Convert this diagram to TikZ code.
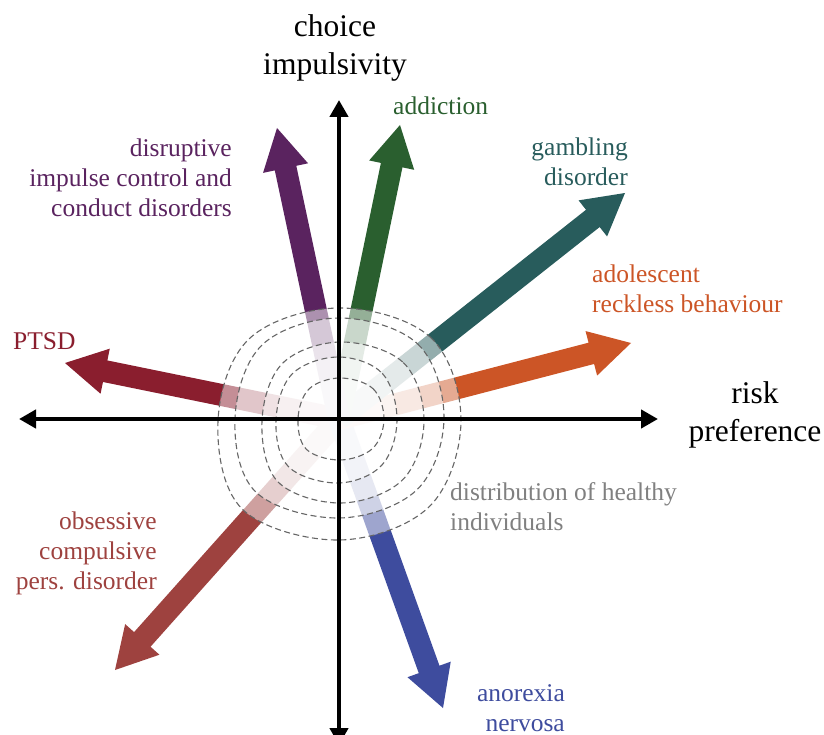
\documentclass[tikz,border=0pt]{standalone}
\usepackage{fontspec}
\setmainfont{Liberation Serif}
\usetikzlibrary{calc,arrows.meta}
\definecolor{cPurple}{RGB}{90,35,95}
\definecolor{cGreen}{RGB}{42,95,47}
\definecolor{cTeal}{RGB}{40,92,92}
\definecolor{cOrange}{RGB}{204,85,38}
\definecolor{cPTSD}{RGB}{138,30,46}
\definecolor{cOCPD}{RGB}{158,66,63}
\definecolor{cBlue}{RGB}{62,76,158}
\newcommand\fatarrow[3]{%
  \coordinate (#3b) at ($(#3)!41pt!(#2)$);
  \fill[#1] ($(#2)!11pt!90:(#3)$) -- ($(#3b)!11pt!90:(#3)$) -- ($(#3b)!23pt!90:(#3)$) -- (#3)
    -- ($(#3b)!23pt!-90:(#3)$) -- ($(#3b)!11pt!-90:(#3)$) -- ($(#2)!11pt!-90:(#3)$) -- cycle;}
\newcommand\distcontour[6]{% cx cy l r t b
  \filldraw[contourline] plot[smooth cycle, tension=0.6] coordinates {
    (#1,#2-#5) (#1+0.75*#4,#2-0.74*#5) (#1+#4,#2) (#1+0.74*#4,#2+0.72*#6)
    (#1,#2+#6) (#1-0.8*#3,#2+0.74*#6) (#1-#3,#2) (#1-0.74*#3,#2-0.73*#5)};}
\tikzset{
  lab/.style={font=\fontsize{25.5}{30}\selectfont, inner sep=0pt},
  axlab/.style={font=\fontsize{31.5}{38}\selectfont, inner sep=0pt},
  contourline/.style={fill=white, fill opacity=0.5, draw=black!60, line width=1.1pt, dash pattern=on 6pt off 3.5pt},
  axis/.style={line width=4.5pt, {Triangle[length=17pt,width=18pt]}-{Triangle[length=17pt,width=18pt]}}
}
\begin{document}
\begin{tikzpicture}[x=1pt,y=-1pt]
\useasboundingbox (0,0) rectangle (824,735);
\coordinate (O) at (339,419);
\coordinate (tP) at (277,128);
\coordinate (tG) at (400,125);
\coordinate (tT) at (625,193);
\coordinate (tO) at (631,343);
\coordinate (tR) at (65,363);
\coordinate (tC) at (115,670);
\coordinate (tB) at (443,708);
% colored arrows
\fatarrow{cPTSD}{O}{tR}
\fatarrow{cOCPD}{O}{tC}
\fatarrow{cBlue}{O}{tB}
\fatarrow{cOrange}{O}{tO}
\fatarrow{cTeal}{O}{tT}
\fatarrow{cGreen}{O}{tG}
\fatarrow{cPurple}{O}{tP}
% distribution contours
\distcontour{339}{421}{121}{122}{113}{119}
\distcontour{339}{418}{104}{105}{100}{100}
\distcontour{341}{421}{79}{83}{79}{82}
\distcontour{338}{420}{62}{59}{63}{63}
\distcontour{340}{419}{42}{44}{41}{41}
% axes
\coordinate (xL) at (19,419);
\coordinate (xR) at (658,419);
\coordinate (yT) at (339,100);
\coordinate (yB) at (339,745);
\draw[axis] (xL) -- (xR);
\draw[axis] (yB) -- (yT);
% labels (anchor base = baseline of the last line)
\node[axlab, align=center, anchor=base] (tY) at (335,75) {choice\\impulsivity};
\node[axlab, align=center, anchor=base] (tX) at (755,441) {risk\\preference};
\node[lab, text=cPurple, align=right, anchor=base east] (tDis) at (232,217) {disruptive\\impulse control and\\conduct disorders};
\node[lab, text=cGreen, anchor=base west] (tAdd) at (393,115) {addiction};
\node[lab, text=cTeal, align=right, anchor=base east] (tGam) at (628,186) {gambling\\disorder};
\node[lab, text=cOrange, align=left, anchor=base west] (tAdo) at (592,312) {adolescent\\reckless behaviour};
\node[lab, text=cPTSD, anchor=base west] (tPT) at (13,349) {PTSD};
\node[lab, text=cOCPD, align=right, anchor=base east] (tOC) at (157,589) {obsessive\\compulsive\\pers. disorder};
\node[lab, text=black!50, align=left, anchor=base west] (tDist) at (450,530) {distribution of healthy\\individuals};
\node[lab, text=cBlue, align=right, anchor=base east] (tAn) at (565,731) {anorexia\\nervosa};
\end{tikzpicture}
\end{document}
